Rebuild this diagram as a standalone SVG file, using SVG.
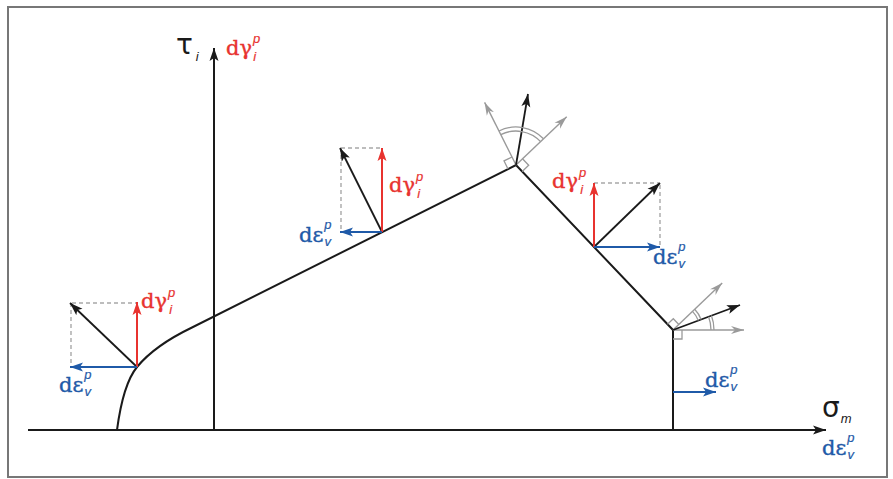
<svg xmlns="http://www.w3.org/2000/svg" width="893" height="479" viewBox="0 0 893 479">
<style>
.ln{fill:none;stroke:#1a1a1a;stroke-width:2;stroke-linejoin:miter}
.ak{stroke:#1a1a1a;stroke-width:1.8;fill:none}
.ar{stroke:#e8332f;stroke-width:2;fill:none}
.ab{stroke:#1f5aa8;stroke-width:2.2;fill:none}
.ag{stroke:#9a9a9a;stroke-width:1.4;fill:none}
.dash{stroke:#a8a8a8;stroke-width:1.4;stroke-dasharray:4 3;fill:none}
.mk{stroke:#9a9a9a;stroke-width:1.3;fill:none}
.big{font-family:"DejaVu Serif","Liberation Serif",serif;font-size:21px;stroke-width:0.4}
.ax{font-family:"DejaVu Sans","Liberation Sans",sans-serif;font-size:28px;fill:#1a1a1a}
.sb{font-family:"Liberation Sans",sans-serif;font-style:italic;font-size:13px;stroke-width:0.2}
.red{fill:#e8332f;stroke:#e8332f}
.blue{fill:#1f5aa8;stroke:#1f5aa8}
</style>
<defs>
<marker id="hk" markerUnits="userSpaceOnUse" markerWidth="14" markerHeight="10" refX="13" refY="5" orient="auto"><path d="M0,0.5 L13,5 L0,9.5 L3,5 z" fill="#1a1a1a"/></marker>
<marker id="hr" markerUnits="userSpaceOnUse" markerWidth="14" markerHeight="10" refX="13" refY="5" orient="auto"><path d="M0,0.5 L13,5 L0,9.5 L3,5 z" fill="#e8332f"/></marker>
<marker id="hb" markerUnits="userSpaceOnUse" markerWidth="14" markerHeight="10" refX="13" refY="5" orient="auto"><path d="M0,0.5 L13,5 L0,9.5 L3,5 z" fill="#1f5aa8"/></marker>
<marker id="hg" markerUnits="userSpaceOnUse" markerWidth="14" markerHeight="10" refX="13" refY="5" orient="auto"><path d="M0,1 L13,5 L0,9 L4,5 z" fill="#9a9a9a"/></marker>
</defs>
<rect x="8" y="7" width="879" height="470" fill="#ffffff" stroke="#777777" stroke-width="2"/>

<g id="axes">
<line class="ln" x1="28" y1="430" x2="826" y2="430" marker-end="url(#hk)"/>
<line class="ln" x1="214" y1="430" x2="214" y2="48" marker-end="url(#hk)"/>
<text class="ax" x="176" y="54">τ<tspan class="sb" font-size="15" dx="3" dy="7">i</tspan></text>
<text class="big red" x="226" y="55" font-size="22">dγ<tspan class="sb" font-size="14" dx="1" dy="-12">p</tspan><tspan class="sb" font-size="14" dx="-7" dy="18">i</tspan></text>
<text class="ax" x="822" y="417">σ<tspan class="sb" font-size="15" dx="1" dy="6">m</tspan></text>
<text class="big blue" x="822" y="455" font-size="22">dε<tspan class="sb" font-size="14" dx="1" dy="-13">p</tspan><tspan class="sb" font-size="14" dx="-7" dy="17">v</tspan></text>
</g>

<g id="yield-surface">
<path class="ln" d="M117,430 C121,400 128,378 137,367 C148,353.6 166,340 192,327.5 L516,165 L673,330 L673,430"/>
</g>

<g id="point-left">
<line class="dash" x1="72" y1="303" x2="137" y2="303"/>
<line class="dash" x1="71" y1="303" x2="71" y2="367"/>
<line class="ak" x1="137" y1="367" x2="70" y2="303" marker-end="url(#hk)"/>
<line class="ar" x1="137" y1="367" x2="137" y2="302" marker-end="url(#hr)"/>
<line class="ab" x1="137" y1="367" x2="70" y2="367" marker-end="url(#hb)"/>
<text class="big red" x="141" y="308">dγ<tspan class="sb" dx="1" dy="-11">p</tspan><tspan class="sb" dx="-6" dy="17">i</tspan></text>
<text class="big blue" x="59" y="392">dε<tspan class="sb" dx="1" dy="-13">p</tspan><tspan class="sb" dx="-7" dy="17">v</tspan></text>
</g>

<g id="point-middle">
<line class="dash" x1="341" y1="148" x2="382" y2="148"/>
<line class="dash" x1="341" y1="148" x2="341" y2="232"/>
<line class="ak" x1="382" y1="232" x2="340" y2="148" marker-end="url(#hk)"/>
<line class="ar" x1="382" y1="232" x2="382" y2="148" marker-end="url(#hr)"/>
<line class="ab" x1="382" y1="232" x2="340" y2="232" marker-end="url(#hb)"/>
<text class="big red" x="389" y="192">dγ<tspan class="sb" dx="1" dy="-11">p</tspan><tspan class="sb" dx="-6" dy="17">i</tspan></text>
<text class="big blue" x="299" y="242">dε<tspan class="sb" dx="1" dy="-13">p</tspan><tspan class="sb" dx="-7" dy="17">v</tspan></text>
</g>

<g id="point-apex">
<line class="ag" x1="516" y1="165" x2="484.6" y2="102.4" marker-end="url(#hg)"/>
<line class="ag" x1="516" y1="165" x2="566.7" y2="116.8" marker-end="url(#hg)"/>
<line class="ak" x1="516" y1="165" x2="528" y2="94" marker-end="url(#hk)"/>
<polyline class="mk" points="508,169 504,160.9 512,157"/>
<polyline class="mk" points="522.2,171.5 528.7,165.3 522.5,158.8"/>
<path class="mk" d="M500.8,134.6 A34,34 0 0 1 540.6,141.6"/>
<path class="mk" d="M499,131 A38,38 0 0 1 543.5,138.8"/>
</g>

<g id="point-right">
<line class="dash" x1="594" y1="183" x2="659" y2="183"/>
<line class="dash" x1="660" y1="185" x2="660" y2="247"/>
<line class="ak" x1="594" y1="247" x2="660" y2="183" marker-end="url(#hk)"/>
<line class="ar" x1="594" y1="247" x2="594" y2="183" marker-end="url(#hr)"/>
<line class="ab" x1="594" y1="247" x2="660" y2="247" marker-end="url(#hb)"/>
<text class="big red" x="552" y="188">dγ<tspan class="sb" dx="1" dy="-11">p</tspan><tspan class="sb" dx="-6" dy="17">i</tspan></text>
<text class="big blue" x="653" y="264">dε<tspan class="sb" dx="1" dy="-13">p</tspan><tspan class="sb" dx="-7" dy="17">v</tspan></text>
</g>

<g id="point-corner">
<line class="ag" x1="673" y1="330" x2="722.2" y2="283.1" marker-end="url(#hg)"/>
<line class="ag" x1="673" y1="330" x2="744" y2="330" marker-end="url(#hg)"/>
<line class="ak" x1="673" y1="330" x2="740" y2="305" marker-end="url(#hk)"/>
<polyline class="mk" points="667.5,324.2 673.3,318.7 678.8,324.5"/>
<polyline class="mk" points="673,339 682,339 682,330"/>
<path class="mk" d="M692.5,311.4 A27,27 0 0 1 698.3,320.5"/>
<path class="mk" d="M694.7,309.3 A30,30 0 0 1 701.1,319.5"/>
<path class="mk" d="M708.6,316.7 A38,38 0 0 1 711,330"/>
<path class="mk" d="M711.4,315.6 A41,41 0 0 1 714,330"/>
</g>

<g id="point-vertical">
<line class="ab" x1="673" y1="392" x2="716" y2="392" marker-end="url(#hb)"/>
<text class="big blue" x="705" y="387">dε<tspan class="sb" dx="1" dy="-13">p</tspan><tspan class="sb" dx="-7" dy="17">v</tspan></text>
</g>
</svg>
